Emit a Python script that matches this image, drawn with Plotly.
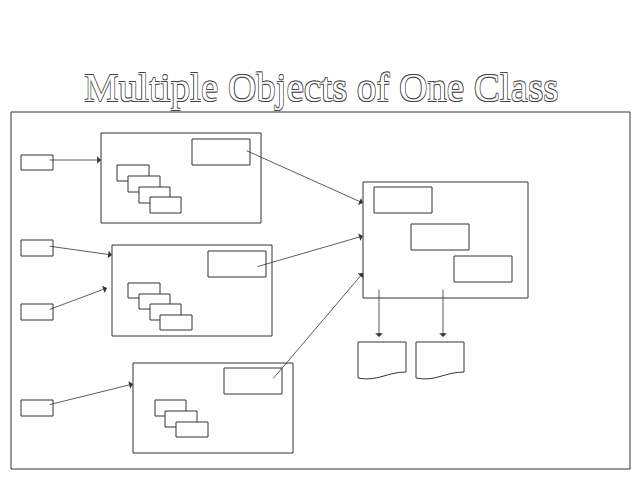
import plotly.graph_objects as go

# pixel coordinates (x right, y down), boxes as (x0, y0, x1, y1)
frame = (11, 112, 630, 469)
class_boxes = [(101, 133, 261, 223), (112, 245, 272, 336), (133, 363, 293, 453)]
inner_boxes = [(192, 139, 250, 165), (208, 251, 266, 277), (224, 368, 282, 394)]
stack_boxes = [
    (117, 165, 149, 181), (128, 176, 160, 192), (139, 187, 170, 203), (150, 197, 181, 213),
    (128, 283, 160, 298), (139, 294, 170, 309), (150, 304, 181, 320), (160, 315, 192, 330),
    (155, 400, 186, 416), (165, 411, 197, 427), (176, 422, 208, 437),
]
input_boxes = [(21, 155, 53, 170), (21, 240, 53, 256), (21, 304, 53, 320), (21, 400, 53, 416)]
target_box = (363, 182, 528, 298)
target_inner = [(374, 187, 432, 213), (411, 224, 469, 250), (454, 256, 512, 282)]
docs = [(358, 342, 406), (416, 342, 464)]
arrows = [
    ((48, 160), (101, 160)), ((48, 246), (112, 255)), ((48, 310), (107, 288)),
    ((48, 405), (133, 384)), ((245, 150), (363, 203)), ((256, 267), (363, 236)),
    ((272, 380), (363, 273)), ((379, 288), (379, 337)), ((443, 288), (443, 337)),
]
title = "Multiple Objects of One Class"

fig = go.Figure()
line = dict(color="#333", width=1)


def rect(b):
    fig.add_shape(type="rect", x0=b[0], y0=b[1], x1=b[2], y1=b[3], line=line,
                  fillcolor="white", layer="above")


for b in [frame] + class_boxes + inner_boxes + stack_boxes + input_boxes + [target_box] + target_inner:
    rect(b)

for x0, y0, x1 in docs:
    w = x1 - x0
    path = (f"M {x0},{y0} L {x1},{y0} L {x1},{y0 + 30} "
            f"C {x0 + w * 0.6},{y0 + 30} {x0 + w * 0.4},{y0 + 40} {x0},{y0 + 36} Z")
    fig.add_shape(type="path", path=path, line=line, fillcolor="white")

for (ax, ay), (x, y) in arrows:
    fig.add_annotation(x=x, y=y, ax=ax, ay=ay, xref="x", yref="y", axref="x", ayref="y",
                       showarrow=True, arrowhead=1, arrowsize=1.6, arrowwidth=0.8,
                       arrowcolor="#333", text="")

fig.add_annotation(x=321, y=88, xref="x", yref="y", text=title, showarrow=False,
                   font=dict(family="Liberation Serif", size=39, color="white",
                             shadow="0.6px 0.6px 0 #444, -0.6px -0.6px 0 #444, "
                                    "0.6px -0.6px 0 #444, -0.6px 0.6px 0 #444"))

# page body has an 8px margin, so shift the ranges to keep pixel coordinates
fig.update_layout(
    width=640, height=480, margin=dict(l=0, r=0, t=0, b=0),
    plot_bgcolor="white", paper_bgcolor="white", showlegend=False,
    xaxis=dict(range=[8, 648], visible=False),
    yaxis=dict(range=[488, 8], visible=False),
)
fig.write_html("out.html")
